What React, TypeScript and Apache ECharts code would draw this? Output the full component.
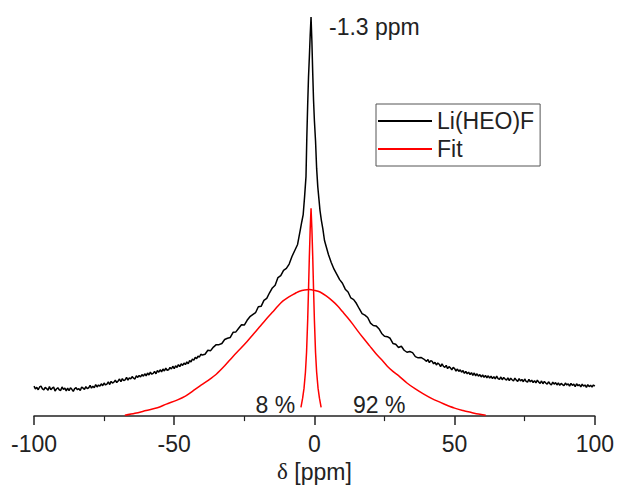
import React, { useEffect, useRef } from "react";
import * as echarts from "echarts";

// Measured spectrum Li(HEO)F: [δ ppm, normalized intensity]
const liHeoF: [number, number][] = [
  [-100, 0.075], [-99.5, 0.068], [-99, 0.072], [-98.5, 0.066], [-98, 0.073], [-97.5, 0.075], [-97, 0.068], [-96.5, 0.066], [-96, 0.072], [-95.5, 0.069],
  [-95, 0.065], [-94.5, 0.074], [-94, 0.066], [-93.5, 0.070], [-93, 0.073], [-92.5, 0.063], [-92, 0.068], [-91.5, 0.071], [-91, 0.066], [-90.5, 0.064],
  [-90, 0.073], [-89.5, 0.067], [-89, 0.070], [-88.5, 0.063], [-88, 0.070], [-87.5, 0.064], [-87, 0.071], [-86.5, 0.067], [-86, 0.062], [-85.5, 0.069],
  [-85, 0.071], [-84.5, 0.066], [-84, 0.069], [-83.5, 0.064], [-83, 0.073], [-82.5, 0.070], [-82, 0.067], [-81.5, 0.074], [-81, 0.069], [-80.5, 0.071],
  [-80, 0.077], [-79.5, 0.070], [-79, 0.075], [-78.5, 0.071], [-78, 0.079], [-77.5, 0.073], [-77, 0.078], [-76.5, 0.075], [-76, 0.081], [-75.5, 0.076],
  [-75, 0.083], [-74.5, 0.078], [-74, 0.080], [-73.5, 0.086], [-73, 0.079], [-72.5, 0.087], [-72, 0.083], [-71.5, 0.085], [-71, 0.090], [-70.5, 0.084],
  [-70, 0.088], [-69.5, 0.093], [-69, 0.086], [-68.5, 0.094], [-68, 0.089], [-67.5, 0.091], [-67, 0.097], [-66.5, 0.090], [-66, 0.096], [-65.5, 0.093],
  [-65, 0.099], [-64.5, 0.095], [-64, 0.093], [-63.5, 0.101], [-63, 0.097], [-62.5, 0.102], [-62, 0.098], [-61.5, 0.104], [-61, 0.100], [-60.5, 0.106],
  [-60, 0.101], [-59.5, 0.108], [-59, 0.103], [-58.5, 0.110], [-58, 0.105], [-57.5, 0.107], [-57, 0.112], [-56.5, 0.106], [-56, 0.114], [-55.5, 0.110],
  [-55, 0.116], [-54.5, 0.111], [-54, 0.118], [-53.5, 0.113], [-53, 0.120], [-52.5, 0.115], [-52, 0.116], [-51.5, 0.122], [-51, 0.118], [-50.5, 0.125],
  [-50, 0.119], [-49.5, 0.126], [-49, 0.122], [-48.5, 0.129], [-48, 0.124], [-47.5, 0.131], [-47, 0.127], [-46.5, 0.133], [-46, 0.129], [-45.5, 0.136],
  [-45, 0.131], [-44.5, 0.139], [-44, 0.136], [-43.5, 0.143], [-43, 0.140], [-42.5, 0.147], [-42, 0.144], [-41.5, 0.150], [-41, 0.148], [-40.5, 0.155],
  [-40, 0.153], [-39, 0.155], [-38, 0.165], [-37, 0.164], [-36, 0.173], [-35, 0.179], [-34, 0.179], [-33, 0.182], [-32, 0.192], [-31, 0.195],
  [-30, 0.197], [-29, 0.210], [-28, 0.211], [-27, 0.220], [-26, 0.229], [-25, 0.228], [-24, 0.240], [-23, 0.249], [-22, 0.254], [-21, 0.259],
  [-20, 0.274], [-19, 0.275], [-18, 0.290], [-17, 0.295], [-16, 0.309], [-15, 0.321], [-14, 0.328], [-13, 0.347], [-12, 0.352], [-11, 0.365],
  [-10, 0.370], [-9, 0.381], [-8, 0.400], [-7, 0.415], [-6, 0.430], [-5, 0.468], [-4.5, 0.487], [-4, 0.505], [-3.5, 0.550], [-3, 0.600],
  [-2.7, 0.700], [-2.4, 0.780], [-2.1, 0.850], [-1.8, 0.900], [-1.5, 0.955], [-1.2, 1.0], [-0.9, 0.940], [-0.6, 0.860], [-0.3, 0.790], [0, 0.740],
  [0.4, 0.690], [0.8, 0.620], [1.2, 0.575], [1.6, 0.545], [2.0, 0.515], [2.5, 0.490], [3, 0.470], [3.6, 0.440], [4.2, 0.425], [5, 0.405],
  [6, 0.385], [7, 0.368], [8, 0.355], [9, 0.342],
  [10, 0.333], [11, 0.318], [12, 0.311], [13, 0.296], [14, 0.292], [15, 0.282], [16, 0.269], [17, 0.257], [18, 0.253], [19, 0.247],
  [20, 0.233], [21, 0.227], [22, 0.226], [23, 0.219], [24, 0.207], [25, 0.200], [26, 0.199], [27, 0.195], [28, 0.182], [29, 0.180],
  [30, 0.172], [31, 0.175], [32, 0.165], [33, 0.160], [34, 0.162], [35, 0.159], [36, 0.149], [37, 0.146], [38, 0.147], [39, 0.143],
  [40, 0.137], [40.5, 0.142], [41, 0.134], [41.5, 0.139], [42, 0.137], [42.5, 0.131], [43, 0.135], [43.5, 0.128], [44, 0.133], [44.5, 0.130],
  [45, 0.124], [45.5, 0.131], [46, 0.125], [46.5, 0.122], [47, 0.127], [47.5, 0.119], [48, 0.124], [48.5, 0.121], [49, 0.116], [49.5, 0.122],
  [50, 0.119], [50.5, 0.113], [51, 0.118], [51.5, 0.112], [52, 0.116], [52.5, 0.110], [53, 0.114], [53.5, 0.107], [54, 0.112], [54.5, 0.106],
  [55, 0.110], [55.5, 0.104], [56, 0.109], [56.5, 0.102], [57, 0.108], [57.5, 0.101], [58, 0.106], [58.5, 0.100], [59, 0.104], [59.5, 0.098],
  [60, 0.103], [60.5, 0.097], [61, 0.102], [61.5, 0.096], [62, 0.101], [62.5, 0.095], [63, 0.100], [63.5, 0.094], [64, 0.099], [64.5, 0.093],
  [65, 0.100], [65.5, 0.094], [66, 0.092], [66.5, 0.098], [67, 0.091], [67.5, 0.097], [68, 0.093], [68.5, 0.090], [69, 0.096], [69.5, 0.089],
  [70, 0.095], [70.5, 0.091], [71, 0.088], [71.5, 0.095], [72, 0.090], [72.5, 0.087], [73, 0.094], [73.5, 0.088], [74, 0.092], [74.5, 0.086],
  [75, 0.093], [75.5, 0.087], [76, 0.085], [76.5, 0.092], [77, 0.086], [77.5, 0.090], [78, 0.084], [78.5, 0.089], [79, 0.083], [79.5, 0.090],
  [80, 0.085], [80.5, 0.082], [81, 0.088], [81.5, 0.081], [82, 0.087], [82.5, 0.083], [83, 0.080], [83.5, 0.086], [84, 0.081], [84.5, 0.078],
  [85, 0.085], [85.5, 0.080], [86, 0.084], [86.5, 0.078], [87, 0.083], [87.5, 0.077], [88, 0.082], [88.5, 0.079], [89, 0.076], [89.5, 0.083],
  [90, 0.078], [90.5, 0.081], [91, 0.075], [91.5, 0.082], [92, 0.077], [92.5, 0.080], [93, 0.074], [93.5, 0.081], [94, 0.076], [94.5, 0.079],
  [95, 0.073], [95.5, 0.080], [96, 0.075], [96.5, 0.078], [97, 0.072], [97.5, 0.079], [98, 0.074], [98.5, 0.077], [99, 0.073], [99.5, 0.078],
  [100, 0.075],
];

// Fit component 1 (narrow, 8 %)
const fitNarrow: [number, number][] = [
  [-4.8, 0.022], [-4.2, 0.045], [-3.7, 0.07], [-3.2, 0.11], [-2.8, 0.16], [-2.4, 0.24], [-2.1, 0.317], [-1.8, 0.40], [-1.5, 0.47],
  [-1.2, 0.521], [-0.9, 0.47], [-0.6, 0.40], [-0.3, 0.317], [0, 0.24], [0.4, 0.16], [0.8, 0.11], [1.3, 0.07], [1.8, 0.045], [2.4, 0.022],
];

// Fit component 2 (broad, 92 %)
const fitBroad: [number, number][] = [
  [-67.6, 0.002], [-64, 0.007], [-60, 0.014], [-56, 0.021], [-52.8, 0.030], [-49, 0.040], [-46, 0.050], [-43.5, 0.062], [-40.9, 0.075],
  [-38, 0.089], [-35, 0.105], [-32, 0.126], [-29.1, 0.149], [-26.5, 0.168], [-24, 0.187], [-21.8, 0.205], [-19.6, 0.223], [-17.3, 0.242],
  [-15, 0.260], [-13, 0.276], [-11.3, 0.288], [-9.5, 0.297], [-8, 0.303], [-6.5, 0.309], [-5.3, 0.313], [-3.5, 0.316], [-1.8, 0.317],
  [0, 0.315], [2, 0.311], [4.2, 0.301], [6.5, 0.288], [8.3, 0.276], [10, 0.262], [11.8, 0.247], [13.6, 0.231], [15.5, 0.213],
  [17.5, 0.195], [19.7, 0.176], [21.9, 0.157], [24, 0.141], [26, 0.125], [28, 0.112], [30.2, 0.100], [33, 0.083], [36, 0.068],
  [39, 0.055], [42.1, 0.043], [46, 0.031], [50, 0.020], [53, 0.014], [56, 0.009], [58.5, 0.005], [61.1, 0.002],
];

const xTicks = [-100, -50, 0, 50, 100];
const legendNames = ["Li(HEO)F", "Fit"];

// Annotations: [text, ppm, intensity, align]
const annotations: [string, number, number, string][] = [
  ["-1.3 ppm", 5.2, 0.975, "left"],
  ["8 %", -13.9, 0.029, "center"],
  ["92 %", 23.1, 0.029, "center"],
];

const FONT = "Liberation Sans, Arial, sans-serif";
const TEXT = "#222";
const FS = 23;

export default function App() {
  const ref = useRef<HTMLDivElement>(null);
  useEffect(() => {
    if (!ref.current) return;
    const chart = echarts.init(ref.current, undefined, { renderer: "svg" });
    chart.setOption({
      animation: false,
      backgroundColor: "#fff",
      textStyle: { fontFamily: FONT },
      grid: { left: 34, right: 21, top: 17, bottom: 64 },
      legend: {
        data: legendNames,
        orient: "vertical",
        left: 376,
        top: 104,
        padding: [4, 6, 4, 2],
        itemGap: 2,
        itemWidth: 54,
        itemHeight: 2,
        icon: "rect",
        borderColor: "#555",
        borderWidth: 1,
        backgroundColor: "#fff",
        textStyle: { fontSize: FS, lineHeight: 26, color: TEXT, fontFamily: FONT },
      },
      xAxis: {
        type: "value",
        min: xTicks[0],
        max: xTicks[xTicks.length - 1],
        interval: 50,
        name: "{d|δ} [ppm]",
        nameLocation: "middle",
        nameGap: 35,
        nameTextStyle: {
          fontSize: FS,
          color: TEXT,
          fontFamily: FONT,
          rich: { d: { fontFamily: "Liberation Serif, Times New Roman, serif", fontSize: FS, color: TEXT } },
        },
        axisLine: { onZero: false, lineStyle: { color: "#222", width: 1.5 } },
        axisTick: { show: true, length: 9, lineStyle: { color: "#222", width: 1.5 } },
        minorTick: { show: true, splitNumber: 2, length: 5, lineStyle: { color: "#222", width: 1.2 } },
        axisLabel: { fontSize: FS, color: TEXT, margin: 16, fontFamily: FONT },
        splitLine: { show: false },
      },
      yAxis: {
        type: "value",
        min: 0,
        max: 1,
        show: false,
        splitLine: { show: false },
      },
      series: [
        {
          name: "Li(HEO)F",
          type: "line",
          data: liHeoF,
          symbol: "none",
          lineStyle: { color: "#000", width: 1.5 },
          itemStyle: { color: "#000" },
          z: 3,
        },
        {
          name: "Fit",
          type: "line",
          data: fitBroad,
          symbol: "none",
          smooth: 0.3,
          lineStyle: { color: "#ff0000", width: 1.5 },
          itemStyle: { color: "#ff0000" },
          z: 2,
        },
        {
          name: "Fit",
          type: "line",
          data: fitNarrow,
          symbol: "none",
          lineStyle: { color: "#ff0000", width: 1.5 },
          itemStyle: { color: "#ff0000" },
          z: 2,
        },
      ],
    });
    const graphics = annotations.map(([t, x, y, align]) => {
      const p = chart.convertToPixel({ gridIndex: 0 }, [x, y]) as number[];
      return {
        type: "text",
        x: p[0],
        y: p[1],
        style: {
          text: t,
          fill: TEXT,
          font: `${FS}px ${FONT}`,
          align,
          verticalAlign: "middle",
        },
      };
    });
    chart.setOption({ graphic: graphics });
    return () => chart.dispose();
  }, []);
  return <div ref={ref} style={{ width: 617, height: 488, position: "absolute", left: 0, top: 0 }} />;
}
